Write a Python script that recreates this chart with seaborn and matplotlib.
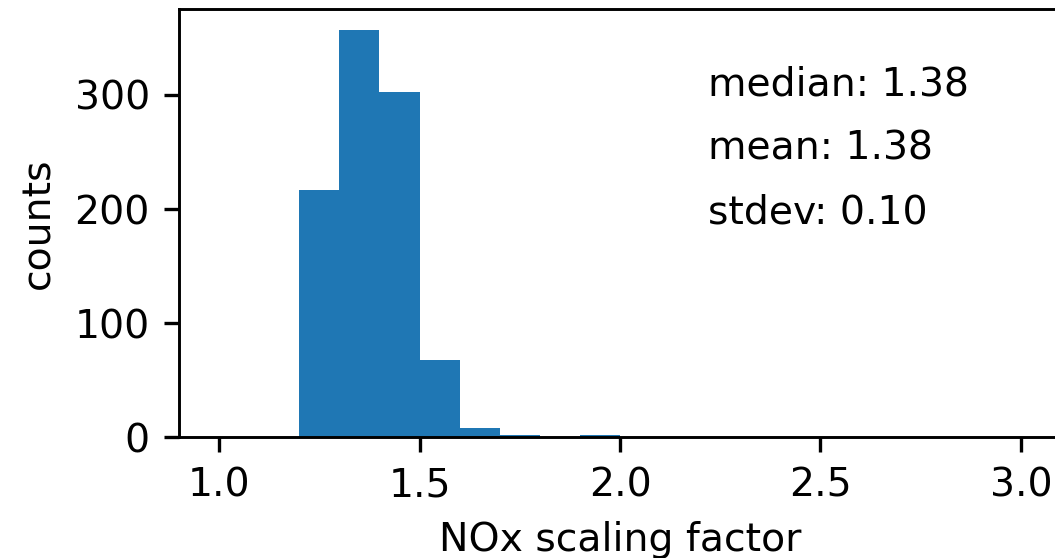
import numpy as np
import matplotlib
matplotlib.use("Agg")
import matplotlib.pyplot as plt
import seaborn as sns

# 各ビンの下端と度数
bin_left = [1.0, 1.1, 1.2, 1.3, 1.4, 1.5, 1.6, 1.7, 1.8, 1.9,
            2.0, 2.1, 2.2, 2.3, 2.4, 2.5, 2.6, 2.7, 2.8, 2.9]
counts = [0, 0, 217, 357, 303, 68, 8, 2, 0, 2,
          0, 0, 0, 0, 0, 0, 0, 0, 0, 0]
bin_edges = bin_left + [3.0]
stats_text = ['median: 1.38', 'mean: 1.38', 'stdev: 0.10']

plt.rcParams['font.size'] = 9.45
plt.rcParams['font.family'] = ['DejaVu Sans']
plt.rcParams['axes.linewidth'] = 0.7

fig = plt.figure(figsize=(1055 / 300, 558 / 300), dpi=300)
ax = fig.add_axes([0.1697, 0.216, 0.836, 0.767])

x = [b + 0.05 for b in bin_left]
sns.histplot(x=x, weights=counts, bins=bin_edges, ax=ax,
             color='#1f77b4', alpha=1, linewidth=0)

for txt, yy in zip(stats_text, [0.8, 0.65, 0.5]):
    ax.text(0.6, yy, txt, transform=ax.transAxes)

ax.set_xlabel('NOx scaling factor')
ax.set_ylabel('counts')

fig.savefig('out.png', dpi=300)
